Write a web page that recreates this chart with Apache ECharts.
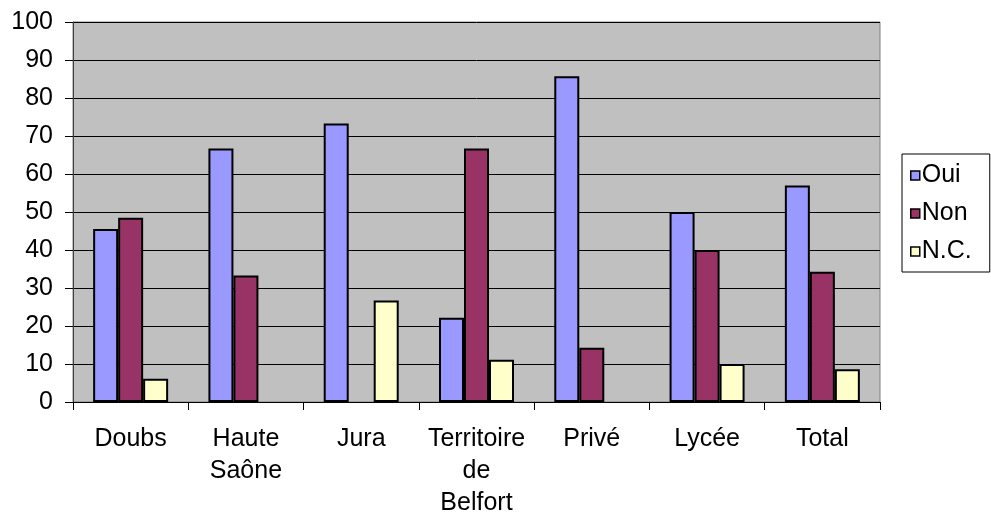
<!DOCTYPE html>
<html><head><meta charset="utf-8">
<script src="https://cdn.jsdelivr.net/npm/echarts@6/dist/echarts.min.js"></script>
<style>html,body{margin:0;padding:0;background:#fff}#c{width:991px;height:519px}</style>
</head><body><div id="c"></div>
<script>
const categories = ['Doubs', 'Haute\nSaône', 'Jura', 'Territoire\nde\nBelfort', 'Privé', 'Lycée', 'Total'];
const oui = [45.5, 66.7, 73.3, 22.2, 85.7, 50, 57.0];
const non = [48.5, 33.3, 0, 66.7, 14.3, 40, 34.3];
const nc = [6.1, 0, 26.7, 11.1, 0, 10, 8.6];
const seriesNames = ['Oui', 'Non', 'N.C.'];
const colors = ['#9999ff', '#993366', '#ffffcc'];
const yTicks = [0, 10, 20, 30, 40, 50, 60, 70, 80, 90, 100];

const font = 'Liberation Sans, Arial, sans-serif';
const chart = echarts.init(document.getElementById('c'));
const mk = (name, data, color) => ({
  name, type: 'bar', data: data.map(v => v === 0 ? null : v),
  barWidth: 25, barGap: '0%',
  itemStyle: { color, borderColor: '#000', borderWidth: 2 },
  emphasis: { disabled: true }
});
chart.setOption({
  animation: false,
  textStyle: { fontFamily: font },
  grid: { left: 73, right: 111, top: 22, bottom: 114, show: true,
          backgroundColor: '#c0c0c0', borderColor: '#808080', borderWidth: 1 },
  legend: {
    orient: 'vertical', left: 902, top: 154,
    padding: [9, 18, 8, 8], itemGap: 13, itemWidth: 9, itemHeight: 9,
    borderColor: '#000', borderWidth: 1, backgroundColor: '#fff',
    textStyle: { fontSize: 25, color: '#000', fontFamily: font, padding: [0, 0, 0, -3] },
    itemStyle: { borderWidth: 1.5, borderColor: '#000' },
    icon: 'rect',
    data: seriesNames
  },
  xAxis: {
    type: 'category', data: categories,
    axisLine: { lineStyle: { color: '#000', width: 1 } },
    axisTick: { show: true, length: 8, lineStyle: { color: '#000' } },
    axisLabel: { fontSize: 25, color: '#000', margin: 21, lineHeight: 32, interval: 0, fontFamily: font },
    splitLine: { show: false }
  },
  yAxis: {
    type: 'value', min: yTicks[0], max: yTicks[yTicks.length - 1], interval: 10,
    axisLine: { show: true, lineStyle: { color: '#404040', width: 1 } },
    axisTick: { show: true, length: 8, lineStyle: { color: '#000' } },
    axisLabel: { fontSize: 25, color: '#000', margin: 20, fontFamily: font },
    splitLine: { show: true, lineStyle: { color: '#000', width: 1 } }
  },
  series: [mk(seriesNames[0], oui, colors[0]), mk(seriesNames[1], non, colors[1]), mk(seriesNames[2], nc, colors[2])]
});
</script></body></html>
